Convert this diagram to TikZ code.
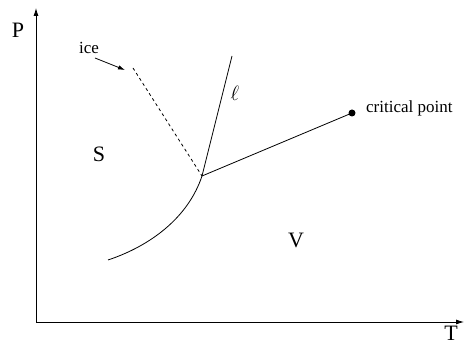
\documentclass[tikz,border=0pt]{standalone}
\usepackage{fontspec}
\setmainfont{Liberation Serif}
\usetikzlibrary{arrows.meta}
\begin{document}
\begin{tikzpicture}[x=1pt,y=-1pt,
  big/.style={font=\fontsize{22}{24}\selectfont, inner sep=0pt},
  small/.style={font=\fontsize{17}{20}\selectfont, inner sep=0pt},
  line/.style={line width=0.8pt},
  axis/.style={line width=0.8pt,-{Latex[length=8pt,width=5pt]}}]
\useasboundingbox (0,0) rectangle (467,347);
\coordinate (O) at (36,322);
\coordinate (Ptop) at (36,8);
\coordinate (Tend) at (464,322);
\draw[axis] (O) -- (Ptop);
\draw[axis] (O) -- (Tend);
\node[big] (P) at (18,30) {P};
\node[big,anchor=base] (T) at (451,341) {T};
\node[big] (S) at (99,154) {S};
\node[big] (V) at (296,240) {V};
\coordinate (tp) at (202,176);
\coordinate (lend) at (232,56);
\coordinate (icetop) at (133,68);
\coordinate (cstart) at (108,260);
\node[circle,fill,inner sep=0pt,minimum size=7pt] (cp) at (352,113) {};
\node[small,anchor=base west] (cptext) at (366,113) {critical point};
\node[small,anchor=base] (ice) at (89,54) {ice};
\coordinate (arrs) at (95,58);
\coordinate (arre) at (125,70);
\draw[line,-{Latex[length=7pt,width=4.5pt]}] (arrs) -- (arre);
\draw[line] (tp) -- (lend);
\draw[line] (tp) -- (cp.center);
\draw[line,dashed,dash pattern=on 3pt off 3pt] (icetop) -- (tp);
\draw[line] (cstart) .. controls (150,246) and (188,218) .. (tp);
\node[big] (ell) at (235,93) {$\ell$};
\end{tikzpicture}
\end{document}
